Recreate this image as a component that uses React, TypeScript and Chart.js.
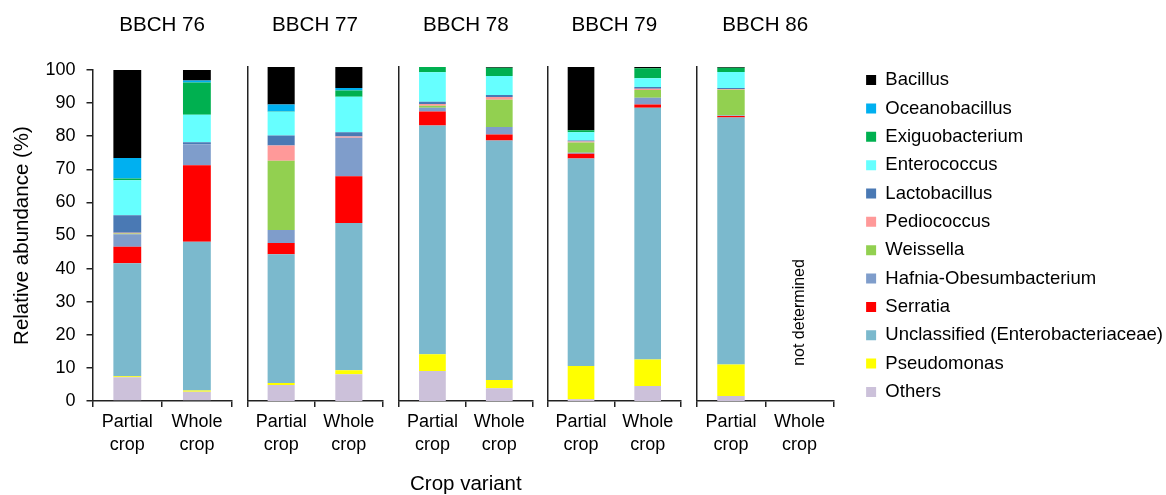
import React, { useEffect, useMemo, useRef } from 'react';
import { Chart, registerables } from 'chart.js';

Chart.register(...registerables);

// ---------- data ----------
const groups = ['BBCH 76', 'BBCH 77', 'BBCH 78', 'BBCH 79', 'BBCH 86'];
const variants = [['Partial', 'crop'], ['Whole', 'crop']];
const yTitle = 'Relative abundance (%)';
const xTitle = 'Crop variant';
const notDeterminedText = 'not determined';
const yMin = 0;
const yMax = 100;
const yStep = 10;

// bars in order: 76P, 76W, 77P, 77W, 78P, 78W, 79P, 79W, 86P, 86W
const others = [7.2, 2.8, 4.8, 8.0, 9.0, 3.8, 0.5, 4.5, 1.5, null];
const pseudomonas = [0.3, 0.4, 0.6, 1.2, 5.0, 2.5, 10.0, 7.9, 9.4, null];
const unclassified = [34.1, 44.9, 38.5, 44.1, 68.5, 71.7, 62.1, 75.4, 74.0, null];
const serratia = [5.0, 23.1, 3.4, 14.0, 4.2, 1.8, 1.4, 1.0, 0.4, null];
const hafnia = [3.8, 6.4, 3.9, 11.5, 1.1, 2.2, 0.3, 2.0, 0.2, null];
const weissella = [0.2, 0, 20.7, 0, 0.6, 8.2, 3.1, 2.3, 7.7, null];
const pediococcus = [0.2, 0, 4.6, 0.4, 0.5, 0.8, 0.3, 0.4, 0.2, null];
const lactobacillus = [5.3, 0.6, 3.0, 1.3, 0.7, 0.6, 0.3, 0.5, 0.3, null];
const enterococcus = [10.6, 8.3, 7.1, 10.6, 8.8, 5.7, 2.5, 2.6, 4.8, null];
const exiguobacterium = [0.5, 9.7, 0.1, 1.9, 1.6, 2.5, 0.6, 3.0, 1.3, null];
const oceanobacillus = [6.2, 0.6, 2.1, 0.7, 0, 0, 0, 0, 0, null];
const bacillus = [26.6, 3.2, 11.2, 6.3, 0, 0.2, 18.9, 0.4, 0.2, null];

// ---------- styles ----------
const series = [
  { name: 'Others', data: others, color: '#CCC1DA' },
  { name: 'Pseudomonas', data: pseudomonas, color: '#FFFF00' },
  { name: 'Unclassified (Enterobacteriaceae)', data: unclassified, color: '#7BB9CD' },
  { name: 'Serratia', data: serratia, color: '#FF0000' },
  { name: 'Hafnia-Obesumbacterium', data: hafnia, color: '#7F9DCB' },
  { name: 'Weissella', data: weissella, color: '#92D050' },
  { name: 'Pediococcus', data: pediococcus, color: '#FF9999' },
  { name: 'Lactobacillus', data: lactobacillus, color: '#4A79B4' },
  { name: 'Enterococcus', data: enterococcus, color: '#66FFFF' },
  { name: 'Exiguobacterium', data: exiguobacterium, color: '#00B050' },
  { name: 'Oceanobacillus', data: oceanobacillus, color: '#00B0F0' },
  { name: 'Bacillus', data: bacillus, color: '#000000' },
];

const FAMILY = "'Liberation Sans', Arial, Helvetica, sans-serif";
const AXIS = '#222222';
const TEXT = '#000000';
const W = 1166;
const H = 495;
const panelLeft = [92.5, 247.3, 399, 547.7, 696.7];
const panelRight = [231.7, 382.7, 532.7, 681, 834];
const plotTop = [70, 67, 67, 67, 67];
const plotBottom = 401;
const TITLE_FONT = 20.6;
const LEGEND_FONT = 18.5;
const LEGEND_PAD = 9.85;
const LEGEND_BOX = 10;
const LEGEND_TEXT_X = 885;
const LEGEND_GAP = LEGEND_TEXT_X - panelRight[4] - LEGEND_PAD - LEGEND_BOX - LEGEND_FONT / 2;
const LAST_CANVAS_H = 472;
const notDeterminedAt = 26.5;

Chart.defaults.font.family = FAMILY;
Chart.defaults.color = TEXT;

function measureLegendWidth(): number {
  const c = document.createElement('canvas').getContext('2d') as CanvasRenderingContext2D;
  c.font = `normal ${LEGEND_FONT}px ${FAMILY}`;
  let m = 0;
  for (const s of series) m = Math.max(m, c.measureText(s.name).width);
  return 2 * LEGEND_PAD + LEGEND_BOX + LEGEND_FONT / 2 + m;
}

function geometry(i: number, legendW: number) {
  const isLast = i === groups.length - 1;
  const left = i === 0 ? 0 : Math.floor(panelLeft[i] - 8);
  const yW = panelLeft[i] - left;
  const plotW = panelRight[i] - left;
  let width: number;
  let gap = 0;
  if (isLast) {
    width = Math.ceil(plotW + LEGEND_GAP + legendW);
    gap = width - plotW - legendW;
  } else {
    width = Math.ceil(plotW + 8);
  }
  const padRight = isLast ? 0 : width - plotW;
  const height = isLast ? LAST_CANVAS_H : H;
  return { left, yW, width, gap, padRight, height, isLast };
}

const notDeterminedPlugin = {
  id: 'notDetermined',
  afterDatasetsDraw(chart: any) {
    const x = chart.scales.x.getPixelForValue(1);
    const y = chart.scales.y.getPixelForValue(notDeterminedAt);
    const ctx = chart.ctx;
    ctx.save();
    ctx.translate(x, y);
    ctx.rotate(-Math.PI / 2);
    ctx.font = `16px ${FAMILY}`;
    ctx.fillStyle = TEXT;
    ctx.textAlign = 'center';
    ctx.textBaseline = 'middle';
    ctx.fillText(notDeterminedText, 0, 0);
    ctx.restore();
  },
};

function Panel({ i, legendW }: { i: number; legendW: number }) {
  const ref = useRef<HTMLCanvasElement>(null);
  const g = geometry(i, legendW);

  useEffect(() => {
    const canvas = ref.current;
    if (!canvas) return;
    const from = 2 * i;
    const to = 2 * i + 2;
    const xH = g.height - plotBottom;

    const datasets = series.map((s) => ({
      label: s.name,
      data: s.data.slice(from, to),
      backgroundColor: s.color,
      borderWidth: 0,
      barPercentage: 0.4,
      categoryPercentage: 1,
    }));

    const scales: any = {
      x: {
        stacked: true,
        offset: true,
        ticks: {
          font: { size: 18, family: FAMILY, lineHeight: 1.3 },
          color: TEXT,
          padding: 3,
          maxRotation: 0,
          autoSkip: false,
        },
        grid: {
          offset: true,
          drawOnChartArea: false,
          drawTicks: true,
          tickLength: 6,
          color: AXIS,
          lineWidth: 1.5,
        },
        border: { display: true, color: AXIS, width: 1.5 },
        title: {
          display: i === 2,
          text: xTitle,
          font: { size: 20.5, family: FAMILY, lineHeight: 1 },
          color: TEXT,
          padding: { top: 0, bottom: 0 },
        },
        afterFit: (s: any) => {
          s.height = xH;
        },
      },
      y: {
        stacked: true,
        min: yMin,
        max: yMax,
        ticks: {
          display: i === 0,
          stepSize: yStep,
          font: { size: 18, family: FAMILY },
          color: TEXT,
          padding: 11,
        },
        grid: {
          display: i === 0,
          drawOnChartArea: false,
          drawTicks: true,
          tickLength: 6,
          color: AXIS,
          lineWidth: 1.5,
        },
        border: { display: true, color: AXIS, width: 1.5 },
        title: {
          display: i === 0,
          text: yTitle,
          font: { size: 20.5, family: FAMILY },
          color: TEXT,
          padding: { top: 10, bottom: 0 },
        },
        afterFit: (s: any) => {
          s.width = g.yW;
        },
      },
    };
    if (g.isLast) {
      scales.yr = {
        axis: 'y',
        type: 'linear',
        position: 'right',
        display: true,
        ticks: { display: false },
        grid: { display: false },
        border: { display: false },
        afterFit: (s: any) => {
          s.width = g.gap;
        },
      };
    }

    const titleLine = TITLE_FONT * 1.2;
    const chart = new Chart(canvas, {
      type: 'bar',
      data: { labels: variants, datasets },
      options: {
        responsive: false,
        animation: false,
        devicePixelRatio: 1,
        layout: { padding: { left: 0, right: g.padRight, top: 0, bottom: 0 } },
        scales,
        plugins: {
          tooltip: { enabled: false },
          title: {
            display: true,
            text: groups[i],
            fullSize: false,
            font: { size: TITLE_FONT, family: FAMILY, weight: 'normal', lineHeight: 1.2 },
            color: TEXT,
            padding: { top: 25 - titleLine / 2, bottom: plotTop[i] - 25 - titleLine / 2 },
          },
          legend: {
            display: g.isLast,
            position: 'right',
            align: 'center',
            fullSize: true,
            reverse: true,
            maxWidth: 1000,
            labels: {
              boxWidth: LEGEND_BOX,
              boxHeight: LEGEND_BOX,
              padding: LEGEND_PAD,
              font: { size: LEGEND_FONT, family: FAMILY },
              color: TEXT,
            },
          },
        },
      } as any,
      plugins: g.isLast ? [notDeterminedPlugin] : [],
    });
    return () => chart.destroy();
  }, [i, legendW]);

  return (
    <canvas
      ref={ref}
      width={g.width}
      height={g.height}
      style={{ position: 'absolute', left: g.left, top: 0, width: g.width, height: g.height }}
    />
  );
}

export default function App() {
  const legendW = useMemo(() => measureLegendWidth(), []);
  return (
    <div
      style={{
        position: 'absolute',
        left: 0,
        top: 0,
        width: W,
        height: H,
        overflow: 'hidden',
        background: '#ffffff',
      }}
    >
      {groups.map((name, i) => (
        <Panel key={name} i={i} legendW={legendW} />
      ))}
    </div>
  );
}
